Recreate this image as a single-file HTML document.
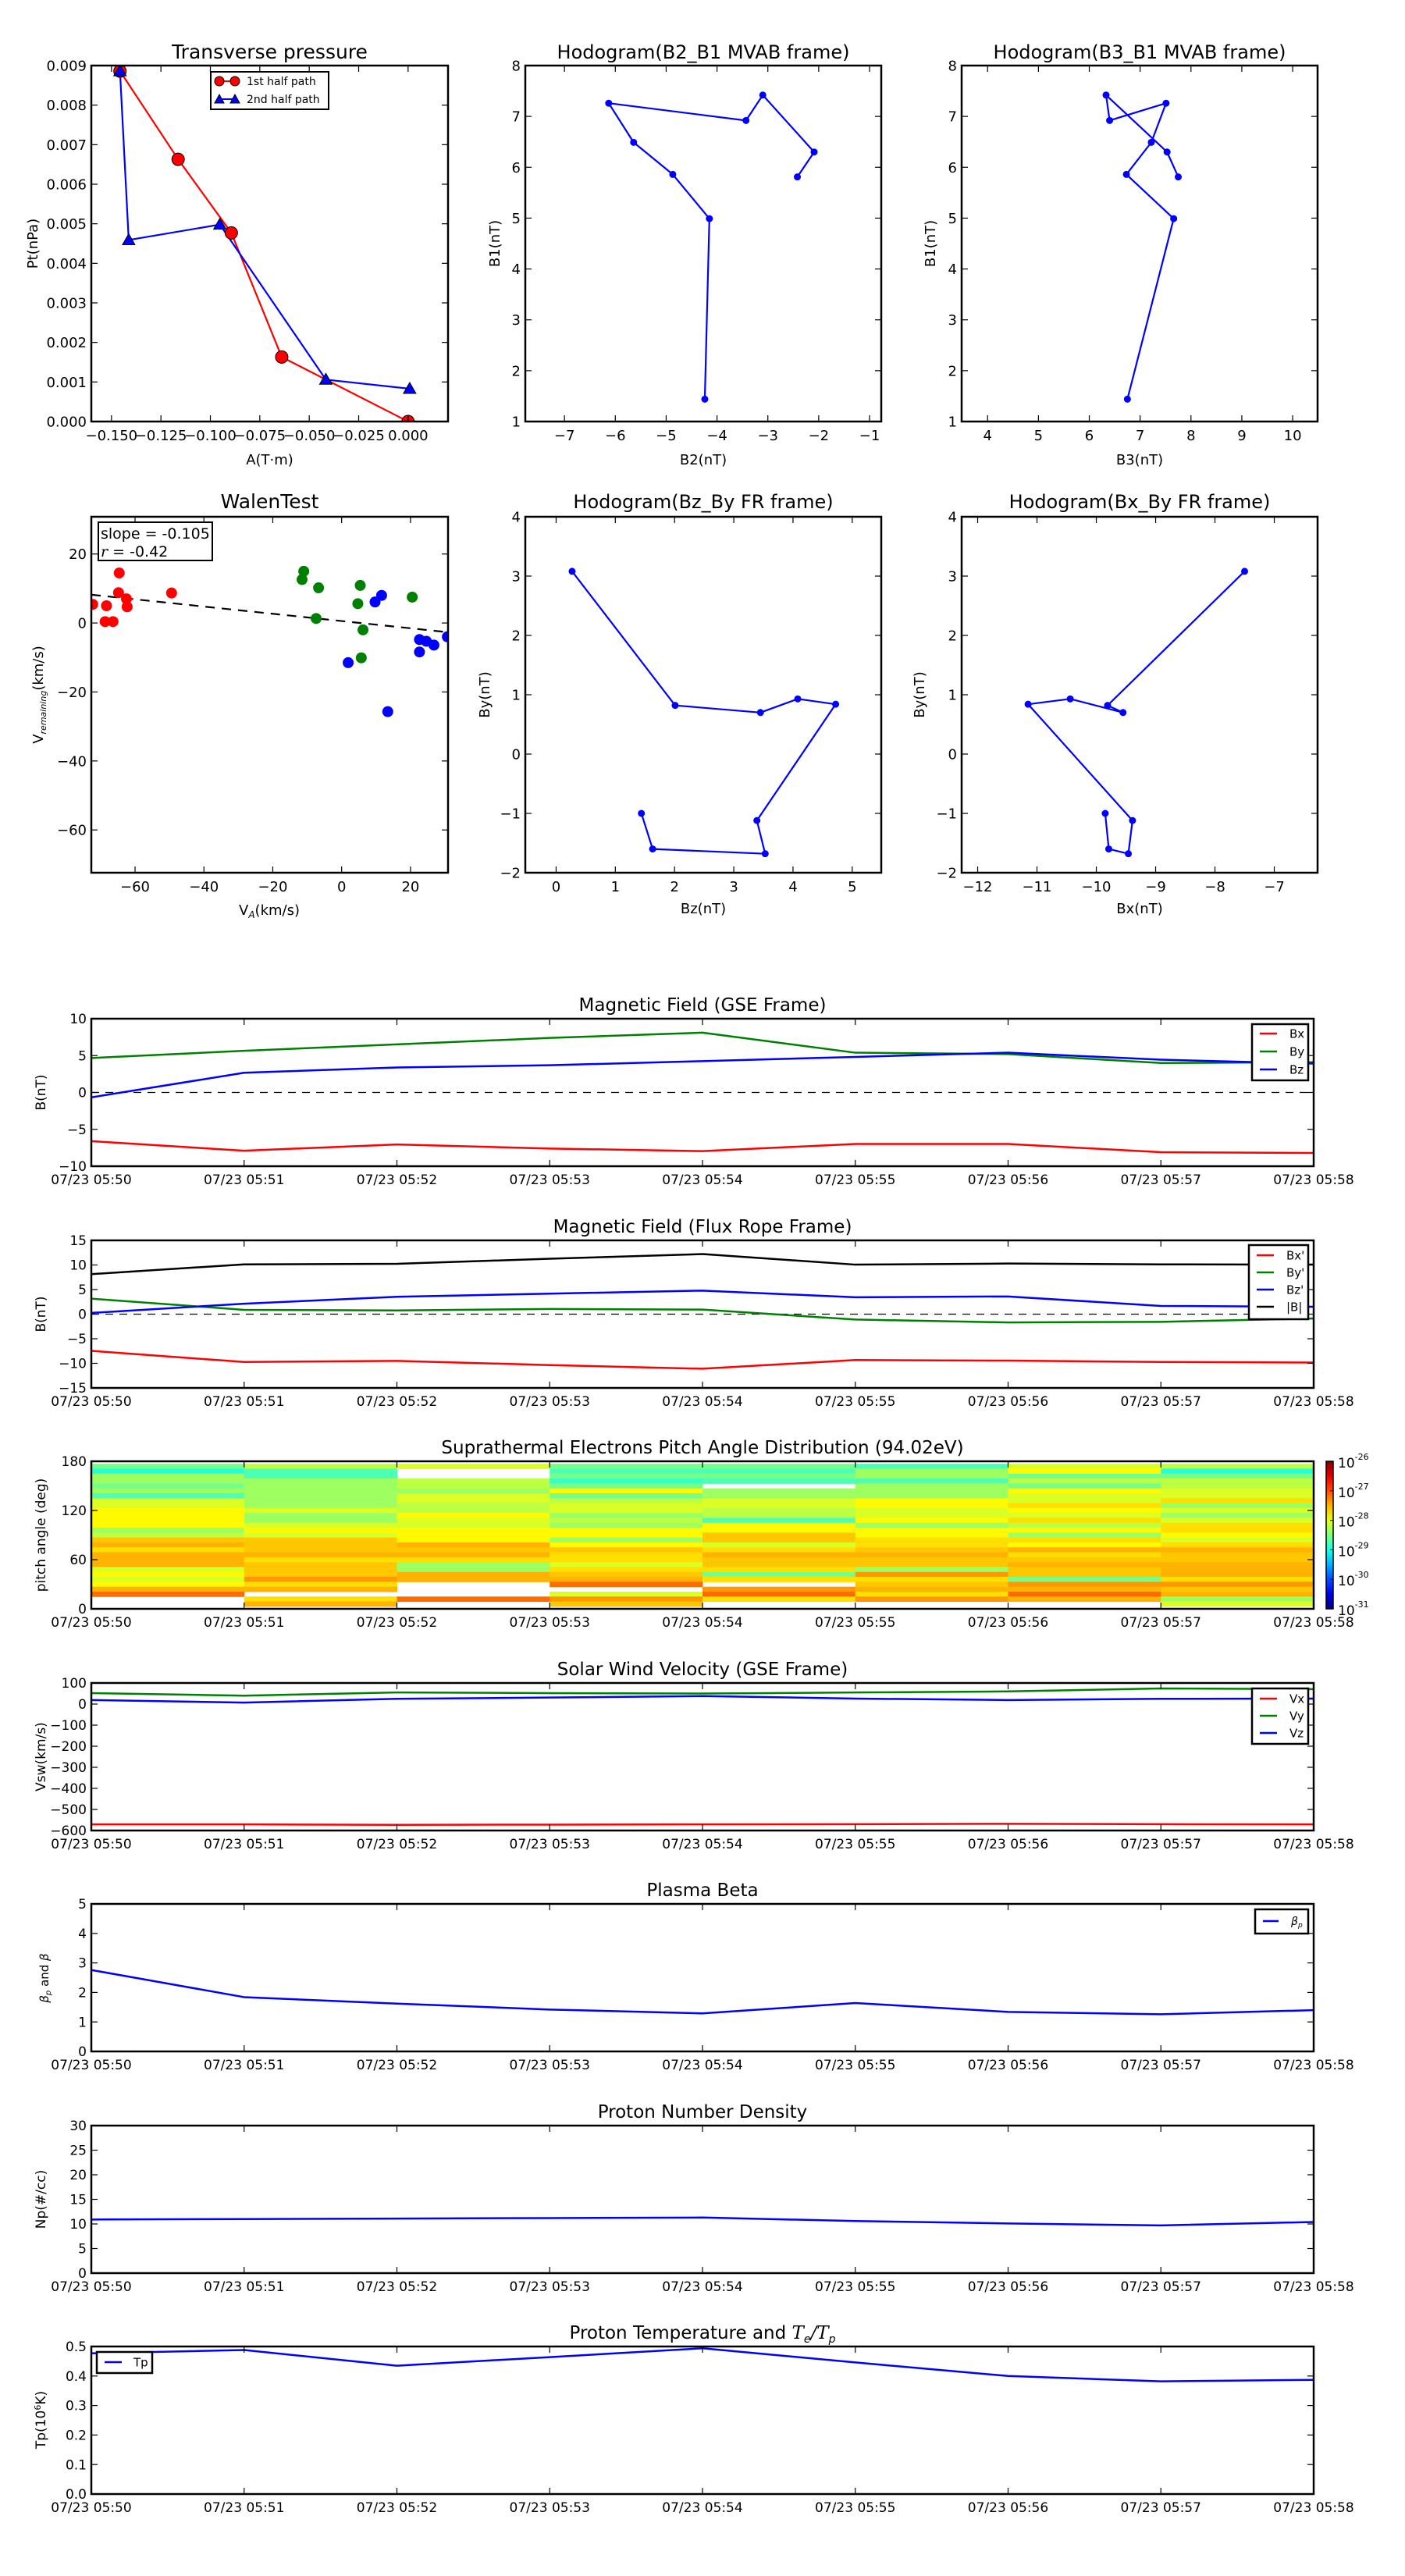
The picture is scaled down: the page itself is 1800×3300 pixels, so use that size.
<!DOCTYPE html>
<html><head><meta charset="utf-8"><title>Flux rope analysis</title>
<style>
html,body{margin:0;padding:0;background:#fff;}
svg{display:block;font-family:"DejaVu Sans","Liberation Sans",sans-serif;}
</style></head>
<body>
<svg id="fig" xmlns="http://www.w3.org/2000/svg" width="1800" height="3300" viewBox="0 0 1800 3300">
<rect x="0" y="0" width="1800" height="3300" fill="#fff"/>
</svg>
<script>
// ---------- DATA ----------
const tpA1 = [-0.1457,-0.1163,-0.0894,-0.0639,0.0];
const tpP1 = [0.00886,0.00663,0.00477,0.00163,0.0];
const tpA2 = [-0.1457,-0.1413,-0.0952,-0.0416,0.0008];
const tpP2 = [0.00886,0.00459,0.00498,0.00106,0.00083];

const hB1 = [1.44,4.99,5.86,6.49,7.26,6.92,7.42,6.30,5.81];
const hB2 = [-4.24,-4.15,-4.87,-5.64,-6.13,-3.43,-3.10,-2.09,-2.42];
const hB3 = [6.75,7.66,6.73,7.22,7.51,6.40,6.33,7.53,7.75];

const frBy = [3.08,0.82,0.70,0.93,0.84,-1.12,-1.68,-1.60,-1.00];
const frBz = [0.27,2.01,3.45,4.08,4.72,3.39,3.53,1.63,1.44];
const frBx = [-7.50,-9.81,-9.55,-10.44,-11.15,-9.39,-9.46,-9.79,-9.85];

const walRedX = [-72.3,-68.7,-68.3,-66.4,-64.6,-64.8,-62.5,-62.3,-49.4];
const walRedY = [5.4,0.4,5.0,0.4,14.5,8.8,7.0,4.7,8.7];
const walGreenX = [-11.0,-11.5,-6.7,5.4,4.7,20.5,-7.4,6.2,5.7];
const walGreenY = [15.0,12.6,10.2,10.9,5.6,7.5,1.3,-2.0,-10.1];
const walBlueX = [9.7,11.6,1.9,13.4,22.6,22.6,24.6,26.8,30.7];
const walBlueY = [6.1,8.0,-11.5,-25.7,-4.8,-8.4,-5.3,-6.4,-4.0];
const walSlope = -0.105;
const walIntercept = 0.57;

const timeMin = [0,1,2,3,4,5,6,7,8];
const timeLabels = ["07/23 05:50","07/23 05:51","07/23 05:52","07/23 05:53","07/23 05:54","07/23 05:55","07/23 05:56","07/23 05:57","07/23 05:58"];

const gseBx = [-6.6,-7.9,-7.05,-7.6,-7.95,-6.98,-6.98,-8.1,-8.2];
const gseBy = [4.67,5.65,6.52,7.39,8.11,5.39,5.2,3.99,4.1];
const gseBz = [-0.66,2.67,3.38,3.69,4.25,4.82,5.39,4.44,3.91];

const frpBx = [-7.46,-9.73,-9.5,-10.35,-11.1,-9.33,-9.45,-9.73,-9.84];
const frpBy = [3.15,0.88,0.76,1.05,0.93,-1.1,-1.68,-1.56,-0.88];
const frpBz = [0.25,2.12,3.54,4.17,4.79,3.43,3.6,1.67,1.5];
const frpBt = [8.14,10.12,10.24,11.26,12.22,10.07,10.29,10.12,10.07];

// pitch angle bins (centers, top to bottom) and log10 flux per minute column
const padPitch = [174,168,162,156,150,144,138,132,126,120,114,108,102,96,90,84,78,72,66,60,54,48,42,36,30,24,18,12,6];
const padCol1 = [-28.55,-28.95,-28.35,-28.35,-28.55,-28.35,-28.75,-28.05,-28.05,-27.85,-27.85,-27.85,-27.85,-28.35,-28.2,-27.6,-27.5,-27.72,-27.5,-27.5,-27.5,-28.05,-27.85,-28.05,-27.85,-27.5,-27.15,null,null];
const padCol2 = [-28.2,-28.75,-28.75,-28.35,-28.35,-28.35,-28.35,-28.35,-28.35,-28.05,-28.35,-28.35,-28.05,-27.85,-28.05,-27.6,-27.6,-27.6,-27.5,-27.72,-27.6,-27.6,-27.6,-27.37,-27.72,-27.5,null,-27.72,-27.5];
const padCol3 = [-28.05,null,null,-28.2,-28.2,-28.35,-28.05,-28.05,-28.2,-28.2,-27.85,-28.05,-28.05,-27.85,-27.85,-27.85,-27.5,-27.6,-27.5,-27.72,-28.35,-28.35,-27.5,-27.5,null,null,null,-27.15,null];
const padCol4 = [-28.55,-28.75,-28.55,-28.85,-28.55,-27.85,-28.55,-28.2,-28.05,-28.05,-28.35,-28.2,-28.35,-27.85,-27.85,-28.35,-27.85,-27.6,-27.72,-27.72,-28.05,-27.72,-27.6,-27.5,-27.15,null,-28.05,-27.37,-27.6];
const padCol5 = [-28.55,-28.75,-28.55,-28.75,null,-28.35,-28.35,-28.05,-28.05,-28.2,-28.2,-28.75,-27.85,-27.85,-27.6,-27.6,-28.05,-27.72,-27.5,-27.6,-27.6,-27.72,-28.55,-27.72,null,-27.37,-27.15,-27.72,null];
const padCol6 = [-28.75,-28.35,-28.35,-28.75,-28.35,-28.35,-28.35,-27.85,-27.85,-28.05,-28.05,-27.85,-28.35,-27.85,-27.85,-27.72,-27.72,-27.6,-27.5,-27.6,-27.6,-28.35,-27.37,-27.72,-27.6,-27.5,-27.72,-27.37,null];
const padCol7 = [-28.05,-27.85,-28.55,-28.2,-28.55,-27.85,-28.05,-28.05,-27.72,-27.85,-28.05,-27.72,-28.2,-27.85,-28.35,-27.72,-27.85,-27.5,-27.72,-27.6,-27.5,-27.6,-27.6,-28.55,-27.37,-27.5,-27.15,-27.5,null];
const padCol8 = [-28.2,-28.95,-28.55,-28.2,-28.2,-28.05,-28.05,-27.72,-28.35,-28.05,-28.35,-28.05,-27.72,-27.72,-27.85,-28.05,-27.72,-27.5,-27.6,-27.6,-27.5,-27.5,-27.5,-27.72,-27.37,-27.6,-27.5,-28.35,-28.05];
const padLogMin = -31, padLogMax = -26;
const padCbarExp = ["-26","-27","-28","-29","-30","-31"];

const swVx = [-571,-571,-573,-572,-571,-570,-568,-570,-571];
const swVy = [52,40,55,52,50,55,60,74,71];
const swVz = [19,7,25,31,38,26,19,25,26];

const betaP = [2.76,1.84,1.62,1.42,1.29,1.64,1.34,1.26,1.40];
const densNp = [10.9,11.0,11.1,11.2,11.3,10.6,10.1,9.7,10.4];
const tempTp = [0.477,0.488,0.435,0.464,0.494,0.446,0.40,0.382,0.387];

// ---------- DRAWING ----------
const NS = "http://www.w3.org/2000/svg";
const fig = document.getElementById('fig');
let clipId = 0;
function el(tag, attrs, parent){
  const e = document.createElementNS(NS, tag);
  for (const k in attrs) e.setAttribute(k, attrs[k]);
  (parent||fig).appendChild(e);
  return e;
}
function text(x, y, s, size, anchor, parent, rot){
  const t = el('text', {x:x, y:y, 'font-size':size, 'text-anchor':anchor||'middle', fill:'#000'}, parent);
  if (rot) t.setAttribute('transform', 'rotate(' + rot + ' ' + x + ' ' + y + ')');
  t.textContent = s;
  return t;
}
function fmtNum(v, dec){
  const s = Math.abs(v).toFixed(dec);
  return (v < 0 ? '\u2212' : '') + s;
}
function makeAxes(c){
  const g = el('g', {});
  
  
  const sx = v => c.x0 + (v - c.xd[0]) / (c.xd[1] - c.xd[0]) * (c.x1 - c.x0);
  const sy = v => c.y1 - (v - c.yd[0]) / (c.yd[1] - c.yd[0]) * (c.y1 - c.y0);
  const id = 'clip' + (clipId++);
  const cp = el('clipPath', {id:id}, g);
  el('rect', {x:c.x0, y:c.y0, width:c.x1-c.x0, height:c.y1-c.y0}, cp);
  const plot = el('g', {'clip-path':'url(#' + id + ')'}, g);
  
  
  const over = el('g', {}, g);
  const tl = 8, fs = c.fs || 18;
  // ticks
  c.xt.forEach((v, i) => {
    const x = sx(v);
    el('line', {x1:x, y1:c.y1, x2:x, y2:c.y1-tl, stroke:'#000', 'stroke-width':1.2}, over);
    el('line', {x1:x, y1:c.y0, x2:x, y2:c.y0+tl, stroke:'#000', 'stroke-width':1.2}, over);
    const t = text(x, c.y1 + (c.xlOff || 24), c.xl[i], fs, 'middle', over);
    
    
  });
  c.yt.forEach((v, i) => {
    const y = sy(v);
    el('line', {x1:c.x0, y1:y, x2:c.x0+tl, y2:y, stroke:'#000', 'stroke-width':1.2}, over);
    el('line', {x1:c.x1, y1:y, x2:c.x1-tl, y2:y, stroke:'#000', 'stroke-width':1.2}, over);
    const t = text(c.x0 - 6, y + fs*0.36, c.yl[i], fs, 'end', over);
    
    
  });
  el('rect', {x:c.x0, y:c.y0, width:c.x1-c.x0, height:c.y1-c.y0, fill:'none', stroke:'#000', 'stroke-width':2.5}, over);
  if (c.title){
    const t = text((c.x0+c.x1)/2, c.titleY, c.title, c.tfs || 24, 'middle', over);
    
    
  }
  if (c.xlabel){
    const t = text((c.x0+c.x1)/2, c.xlabelY, c.xlabel, c.lfs || 18, 'middle', over);
    
    
  }
  if (c.ylabel){
    const t = text(c.ylabelX, (c.y0+c.y1)/2, c.ylabel, c.lfs || 18, 'middle', over, -90);
    
    
  }
  return {sx, sy, plot, over, g};
}
function line(ax, xs, ys, color, w, name, dash){
  const pts = xs.map((x, i) => ax.sx(x).toFixed(2) + ',' + ax.sy(ys[i]).toFixed(2)).join(' ');
  const p = el('polyline', {points:pts, fill:'none', stroke:color, 'stroke-width':w||2.5, 'stroke-linejoin':'round'}, ax.plot);
  if (dash) p.setAttribute('stroke-dasharray', dash);
  
  
  return p;
}
function dots(ax, xs, ys, color, r, name, edge){
  xs.forEach((x, i) => {
    const c = el('circle', {cx:ax.sx(x), cy:ax.sy(ys[i]), r:r, fill:color}, ax.plot);
    if (edge){ c.setAttribute('stroke', '#000'); c.setAttribute('stroke-width', 1); }
    
    
  });
}
function tris(ax, xs, ys, color, s, name){
  xs.forEach((x, i) => {
    const cx = ax.sx(x), cy = ax.sy(ys[i]);
    const p = el('polygon', {points:(cx)+','+(cy-s)+' '+(cx-s)+','+(cy+s*0.75)+' '+(cx+s)+','+(cy+s*0.75), fill:color, stroke:'#000', 'stroke-width':1}, ax.plot);
    
    
  });
}
function range(a, b, s){ const r = []; for (let v = a; v <= b + 1e-9; v += s) r.push(Math.round(v*1000)/1000); return r; }
function legend(x0, y0, x1, y1, entries, lx0, lx1, tx, fs){
  const g = el('g', {});
  
  
  el('rect', {x:x0, y:y0, width:x1-x0, height:y1-y0, fill:'#fff', stroke:'#000', 'stroke-width':2.5}, g);
  entries.forEach(e => {
    const eg = el('g', {}, g);
    
    
    el('line', {x1:lx0, y1:e.y, x2:lx1, y2:e.y, stroke:e.color, 'stroke-width':2.5}, eg);
    text(tx, e.y + fs*0.36, e.label, fs, 'start', eg);
  });
  return g;
}

// ---- Transverse pressure ----
(function(){
  const ax = makeAxes({name:'transverse-pressure', x0:117, x1:574, y0:84, y1:540, xd:[-0.1602,0.0202], yd:[0,0.009],
    xt:range(-0.15,0,0.025), xl:range(-0.15,0,0.025).map(v => fmtNum(v,3)),
    yt:range(0,0.009,0.001), yl:range(0,0.009,0.001).map(v => v.toFixed(3)),
    title:'Transverse pressure', titleY:75, xlabel:'A(T\u00b7m)', xlabelY:595, ylabel:'Pt(nPa)', ylabelX:48, fs:18, tfs:25});
  line(ax, tpA1, tpP1, '#f00', 2.2, 'first-half-path-line');
  line(ax, tpA2, tpP2, '#00f', 2.2, 'second-half-path-line');
  dots(ax, tpA1, tpP1, '#f00', 8, 'first-half-point', true);
  tris(ax, tpA2, tpP2, '#00f', 8, 'second-half-point');
  const lg = el('g', {});
  
  
  el('rect', {x:270, y:92, width:151, height:48, fill:'#fff', stroke:'#000', 'stroke-width':2}, lg);
  el('line', {x1:281, y1:104, x2:301, y2:104, stroke:'#f00', 'stroke-width':2}, lg);
  el('circle', {cx:281, cy:104, r:6, fill:'#f00', stroke:'#000'}, lg);
  el('circle', {cx:301, cy:104, r:6, fill:'#f00', stroke:'#000'}, lg);
  text(316, 109, '1st half path', 14, 'start', lg);
  el('line', {x1:281, y1:127, x2:301, y2:127, stroke:'#00f', 'stroke-width':2}, lg);
  el('polygon', {points:'281,121 275,132 287,132', fill:'#00f', stroke:'#000'}, lg);
  el('polygon', {points:'301,121 295,132 307,132', fill:'#00f', stroke:'#000'}, lg);
  text(316, 132, '2nd half path', 14, 'start', lg);
})();

// ---- Hodogram B2_B1 ----
(function(){
  const ax = makeAxes({name:'hodogram-b2-b1', x0:673, x1:1129, y0:84, y1:540, xd:[-7.77,-0.77], yd:[1,8],
    xt:range(-7,-1,1), xl:range(-7,-1,1).map(v => fmtNum(v,0)), yt:range(1,8,1), yl:range(1,8,1).map(v => String(v)),
    title:'Hodogram(B2_B1 MVAB frame)', titleY:75, xlabel:'B2(nT)', xlabelY:595, ylabel:'B1(nT)', ylabelX:640, fs:18, tfs:24});
  line(ax, hB2, hB1, '#00f', 2.2, 'hodogram-b2-b1-path');
  dots(ax, hB2, hB1, '#00f', 4.5, 'hodogram-b2-b1-point');
})();
// ---- Hodogram B3_B1 ----
(function(){
  const ax = makeAxes({name:'hodogram-b3-b1', x0:1232, x1:1688, y0:84, y1:540, xd:[3.49,10.49], yd:[1,8],
    xt:range(4,10,1), xl:range(4,10,1).map(v => String(v)), yt:range(1,8,1), yl:range(1,8,1).map(v => String(v)),
    title:'Hodogram(B3_B1 MVAB frame)', titleY:75, xlabel:'B3(nT)', xlabelY:595, ylabel:'B1(nT)', ylabelX:1198, fs:18, tfs:24});
  line(ax, hB3, hB1, '#00f', 2.2, 'hodogram-b3-b1-path');
  dots(ax, hB3, hB1, '#00f', 4.5, 'hodogram-b3-b1-point');
})();

// ---- Walen test ----
(function(){
  const ax = makeAxes({name:'walen-test', x0:117, x1:574, y0:662, y1:1118, xd:[-72.7,30.9], yd:[-72.4,30.8],
    xt:range(-60,20,20), xl:range(-60,20,20).map(v => fmtNum(v,0)), yt:range(-60,20,20), yl:range(-60,20,20).map(v => fmtNum(v,0)),
    title:'WalenTest', titleY:651, fs:18, tfs:25});
  const fx = [-72.7, 30.9];
  line(ax, fx, fx.map(v => walIntercept + walSlope*v), '#000', 2.2, 'walen-fit-line', '12,9');
  dots(ax, walRedX, walRedY, '#f00', 7, 'walen-red-point');
  dots(ax, walGreenX, walGreenY, 'green', 7, 'walen-green-point');
  dots(ax, walBlueX, walBlueY, '#00f', 7, 'walen-blue-point');
  const bx = el('g', {});
  
  
  el('rect', {x:126, y:669, width:146, height:49, fill:'#fff', stroke:'#000', 'stroke-width':2}, bx);
  text(129, 690, 'slope = -0.105', 19, 'start', bx);
  const r = text(129, 713, '', 19, 'start', bx);
  const ri = el('tspan', {'font-style':'italic', 'font-family':'"DejaVu Serif","Liberation Serif",serif'}, r); ri.textContent = 'r';
  const rt = el('tspan', {}, r); rt.textContent = ' = -0.42';
  const xl = text(345, 1172, '', 18, 'middle', ax.over);
  
  
  const a1 = el('tspan', {}, xl); a1.textContent = 'V';
  const a2 = el('tspan', {'font-size':12, 'font-style':'italic', dy:4}, xl); a2.textContent = 'A';
  const a3 = el('tspan', {dy:-4}, xl); a3.textContent = '(km/s)';
  const yl = text(55, 890, '', 18, 'middle', ax.over, -90);
  
  
  const b1 = el('tspan', {}, yl); b1.textContent = 'V';
  const b2 = el('tspan', {'font-size':11, 'font-style':'italic', dy:4}, yl); b2.textContent = 'remaining';
  const b3 = el('tspan', {dy:-4}, yl); b3.textContent = '(km/s)';
})();

// ---- Hodogram Bz_By FR ----
(function(){
  const ax = makeAxes({name:'hodogram-bz-by', x0:673, x1:1129, y0:662, y1:1118, xd:[-0.52,5.49], yd:[-2,4],
    xt:range(0,5,1), xl:range(0,5,1).map(v => String(v)), yt:range(-2,4,1), yl:range(-2,4,1).map(v => fmtNum(v,0)),
    title:'Hodogram(Bz_By FR frame)', titleY:651, xlabel:'Bz(nT)', xlabelY:1170, ylabel:'By(nT)', ylabelX:627, fs:18, tfs:24});
  line(ax, frBz, frBy, '#00f', 2.2, 'hodogram-bz-by-path');
  dots(ax, frBz, frBy, '#00f', 4.5, 'hodogram-bz-by-point');
})();
// ---- Hodogram Bx_By FR ----
(function(){
  const ax = makeAxes({name:'hodogram-bx-by', x0:1232, x1:1688, y0:662, y1:1118, xd:[-12.27,-6.27], yd:[-2,4],
    xt:range(-12,-7,1), xl:range(-12,-7,1).map(v => fmtNum(v,0)), yt:range(-2,4,1), yl:range(-2,4,1).map(v => fmtNum(v,0)),
    title:'Hodogram(Bx_By FR frame)', titleY:651, xlabel:'Bx(nT)', xlabelY:1170, ylabel:'By(nT)', ylabelX:1184, fs:18, tfs:24});
  line(ax, frBx, frBy, '#00f', 2.2, 'hodogram-bx-by-path');
  dots(ax, frBx, frBy, '#00f', 4.5, 'hodogram-bx-by-point');
})();

// ---- Time series panels ----
const TX0 = 117, TX1 = 1683;
function tsAxes(name, y0, y1, yd, yt, yl, title, ylabel){
  return makeAxes({name:name, x0:TX0, x1:TX1, y0:y0, y1:y1, xd:[0,8], yd:yd, xt:timeMin, xl:timeLabels,
    yt:yt, yl:yl, title:title, titleY:y0-10, ylabel:ylabel, ylabelX:58, fs:17, tfs:23, lfs:17, xlOff:23});
}
(function(){
  const ax = tsAxes('magnetic-field-gse', 1305, 1494, [-10,10], range(-10,10,5), range(-10,10,5).map(v => fmtNum(v,0)), 'Magnetic Field (GSE Frame)', 'B(nT)');
  line(ax, [0,8], [0,0], '#000', 1.3, 'zero-line', '10,8');
  line(ax, timeMin, gseBx, '#f00', 2.5, 'series-bx');
  line(ax, timeMin, gseBy, 'green', 2.5, 'series-by');
  line(ax, timeMin, gseBz, '#00f', 2.5, 'series-bz');
  legend(1604, 1312, 1676, 1384, [{y:1324,color:'#f00',label:'Bx'},{y:1347,color:'green',label:'By'},{y:1370,color:'#00f',label:'Bz'}], 1614, 1636, 1652, 15);
})();
(function(){
  const ax = tsAxes('magnetic-field-fr', 1589, 1778, [-15,15], range(-15,15,5), range(-15,15,5).map(v => fmtNum(v,0)), 'Magnetic Field (Flux Rope Frame)', 'B(nT)');
  line(ax, [0,8], [0,0], '#000', 1.3, 'zero-line', '10,8');
  line(ax, timeMin, frpBx, '#f00', 2.5, 'series-bx-prime');
  line(ax, timeMin, frpBy, 'green', 2.5, 'series-by-prime');
  line(ax, timeMin, frpBz, '#00f', 2.5, 'series-bz-prime');
  line(ax, timeMin, frpBt, '#000', 2.5, 'series-b-total');
  legend(1600, 1595, 1676, 1690, [{y:1608,color:'#f00',label:"Bx'"},{y:1630,color:'green',label:"By'"},{y:1652,color:'#00f',label:"Bz'"},{y:1674,color:'#000',label:'|B|'}], 1610, 1632, 1648, 15);
})();
function jet(t){
  t = Math.max(0, Math.min(1, t));
  const c = v => Math.round(255*Math.max(0, Math.min(1, v)));
  return 'rgb(' + c(1.5-Math.abs(4*t-3)) + ',' + c(1.5-Math.abs(4*t-2)) + ',' + c(1.5-Math.abs(4*t-1)) + ')';
}
(function(){
  const ax = tsAxes('pitch-angle-distribution', 1872, 2061, [0,180], [0,60,120,180], ['0','60','120','180'], 'Suprathermal Electrons Pitch Angle Distribution (94.02eV)', 'pitch angle (deg)');
  const cols = [padCol1,padCol2,padCol3,padCol4,padCol5,padCol6,padCol7,padCol8];
  cols.forEach((col, ci) => {
    col.forEach((v, ri) => {
      if (v === null) return;
      const p = padPitch[ri];
      const x = ax.sx(ci), y = ax.sy(p + 3);
      const r = el('rect', {x:x, y:y, width:ax.sx(ci+1)-x+0.5, height:ax.sy(p - 3)-y+0.5, fill:jet((v - padLogMin)/(padLogMax - padLogMin))}, ax.plot);
      
      
    });
  });
  ax.g.appendChild(ax.over);
  // colorbar
  const cb = el('g', {});
  
  
  const defs = el('defs', {}, cb);
  const lg = el('linearGradient', {id:'jetgrad', x1:0, y1:1, x2:0, y2:0}, defs);
  for (let i = 0; i <= 10; i++) el('stop', {offset:(i*10)+'%', 'stop-color':jet(i/10)}, lg);
  el('rect', {x:1699, y:1872, width:9, height:189, fill:'url(#jetgrad)', stroke:'#000', 'stroke-width':1.5}, cb);
  padCbarExp.forEach((e, i) => {
    const y = 1872 + i*189/5;
    el('line', {x1:1704, y1:y, x2:1708, y2:y, stroke:'#000', 'stroke-width':1}, cb);
    const t = text(1714, y + 8, '10', 17, 'start', cb);
    const s = el('tspan', {'font-size':11, dy:-10}, t); s.textContent = e;
  });
})();
(function(){
  const ax = tsAxes('solar-wind-velocity', 2156, 2345, [-600,100], range(-600,100,100), range(-600,100,100).map(v => fmtNum(v,0)), 'Solar Wind Velocity (GSE Frame)', 'Vsw(km/s)');
  line(ax, timeMin, swVx, '#f00', 2.5, 'series-vx');
  line(ax, timeMin, swVy, 'green', 2.5, 'series-vy');
  line(ax, timeMin, swVz, '#00f', 2.5, 'series-vz');
  legend(1604, 2163, 1676, 2234, [{y:2176,color:'#f00',label:'Vx'},{y:2198,color:'green',label:'Vy'},{y:2220,color:'#00f',label:'Vz'}], 1614, 1636, 1652, 15);
})();
(function(){
  const ax = tsAxes('plasma-beta', 2439, 2628, [0,5], range(0,5,1), range(0,5,1).map(v => String(v)), 'Plasma Beta', '');
  line(ax, timeMin, betaP, '#00f', 2.5, 'series-beta-p');
  const yl = text(62, 2534, '', 15, 'middle', ax.over, -90);
  
  
  const a = el('tspan', {'font-style':'italic'}, yl); a.textContent = '\u03b2';
  const b = el('tspan', {'font-size':10, 'font-style':'italic', dy:3}, yl); b.textContent = 'p';
  const c2 = el('tspan', {dy:-3}, yl); c2.textContent = ' and ';
  const d = el('tspan', {'font-style':'italic'}, yl); d.textContent = '\u03b2';
  const lgd = legend(1608, 2446, 1676, 2477, [], 0, 0, 0, 15);
  el('line', {x1:1618, y1:2461, x2:1638, y2:2461, stroke:'#00f', 'stroke-width':2.5}, lgd);
  const t = text(1654, 2466, '', 14, 'start', lgd);
  const t1 = el('tspan', {'font-style':'italic'}, t); t1.textContent = '\u03b2';
  const t2 = el('tspan', {'font-size':9, 'font-style':'italic', dy:3}, t); t2.textContent = 'p';
})();
(function(){
  const ax = tsAxes('proton-number-density', 2723, 2912, [0,30], range(0,30,5), range(0,30,5).map(v => String(v)), 'Proton Number Density', 'Np(#/cc)');
  line(ax, timeMin, densNp, '#00f', 2.5, 'series-np');
})();
(function(){
  const ax = tsAxes('proton-temperature', 3006, 3195, [0,0.5], range(0,0.5,0.1), range(0,0.5,0.1).map(v => v.toFixed(1)), '', '');
  line(ax, timeMin, tempTp, '#00f', 2.5, 'series-tp');
  const tt = text(900, 2996, '', 23, 'middle', ax.over);
  
  
  const a = el('tspan', {}, tt); a.textContent = 'Proton Temperature and ';
  const b = el('tspan', {'font-style':'italic', 'font-family':'"DejaVu Serif","Liberation Serif",serif'}, tt); b.textContent = 'T';
  const c = el('tspan', {'font-size':14, 'font-style':'italic', dy:5}, tt); c.textContent = 'e';
  const d = el('tspan', {dy:-5, 'font-style':'italic', 'font-family':'"DejaVu Serif","Liberation Serif",serif'}, tt); d.textContent = '/T';
  const e = el('tspan', {'font-size':14, 'font-style':'italic', dy:5}, tt); e.textContent = 'p';
  const yl = text(58, 3100, '', 17, 'middle', ax.over, -90);
  
  
  const y1 = el('tspan', {}, yl); y1.textContent = 'Tp(10';
  const y2 = el('tspan', {'font-size':11, dy:-6}, yl); y2.textContent = '6';
  const y3 = el('tspan', {dy:6}, yl); y3.textContent = 'K)';
  legend(124, 3013, 195, 3040, [{y:3026,color:'#00f',label:'Tp'}], 134, 156, 171, 15);
})();
</script>
</body></html>
